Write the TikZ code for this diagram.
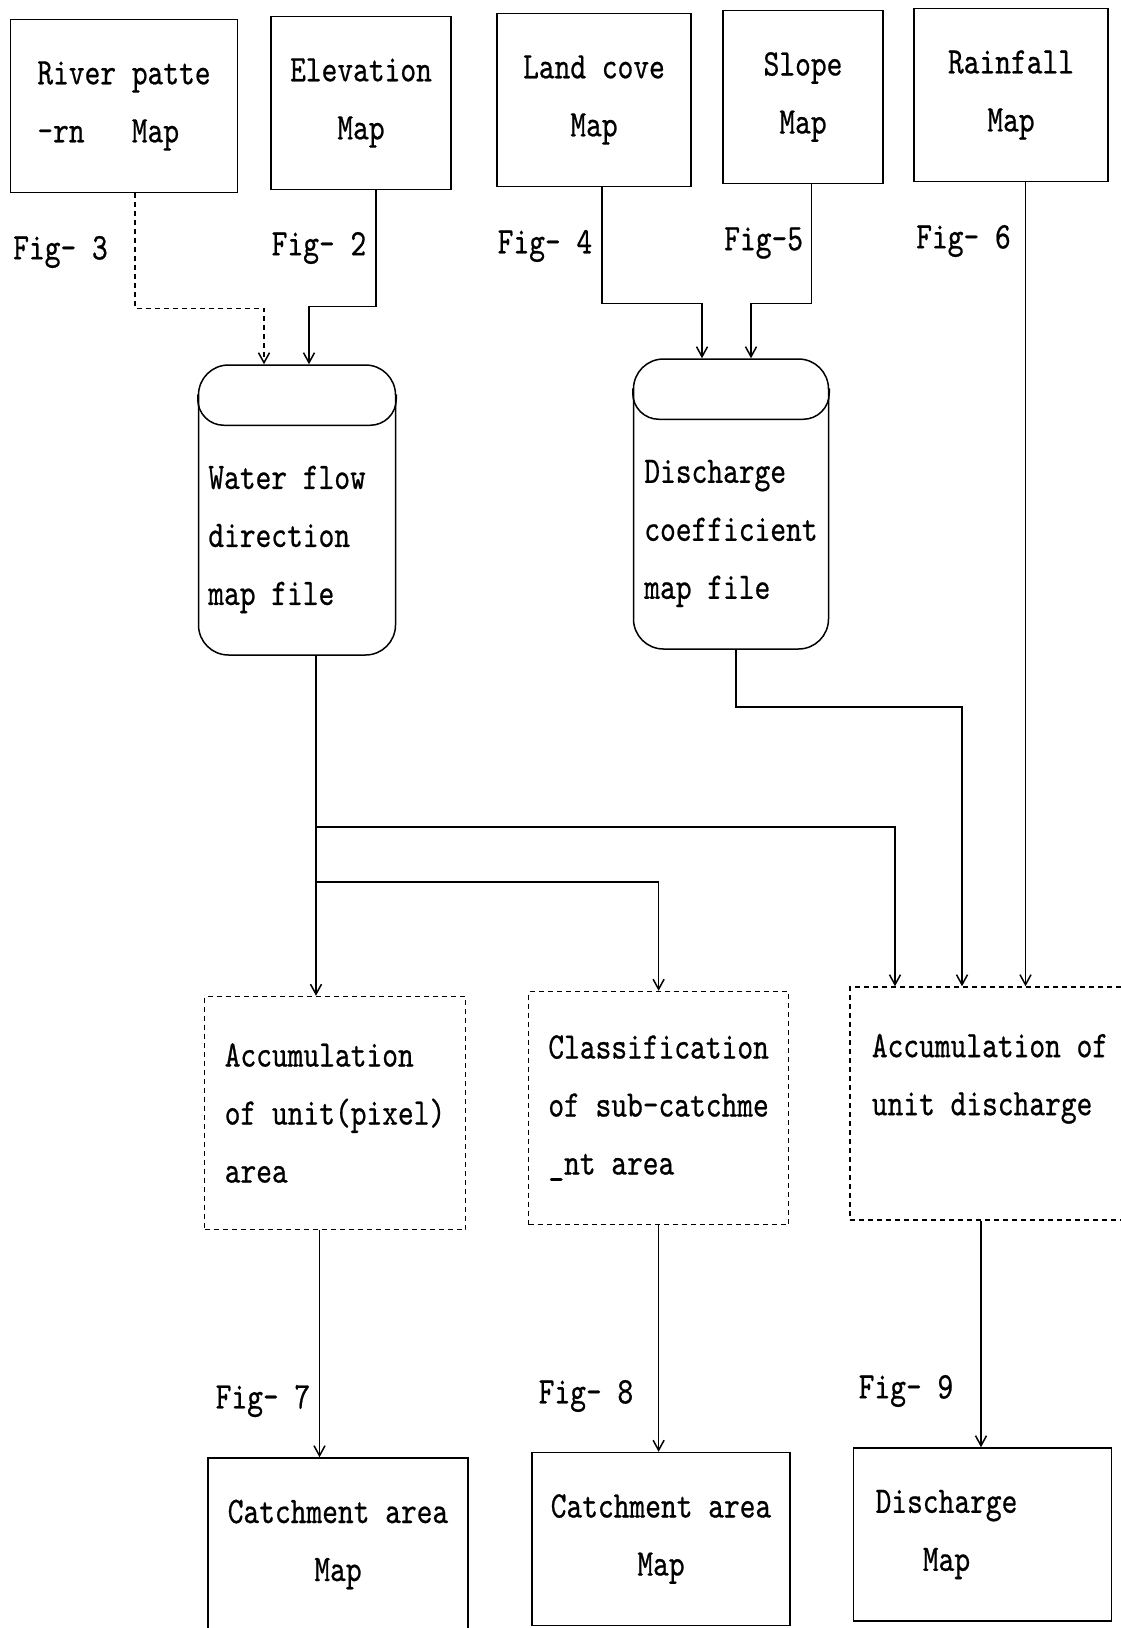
\documentclass[tikz,border=0pt]{standalone}
\usepackage{fontspec}
\usetikzlibrary{arrows.meta,calc}
\newfontfamily\maptext[FakeStretch=0.8,FakeBold=0.6,Extension=.otf]{lmmono10-regular}
\newcommand\mapfont{\maptext\fontsize{37.5pt}{58pt}\selectfont}

\begin{document}
\begin{tikzpicture}[x=1pt,y=-1pt,line width=1.5pt,
  mapbox/.style={draw,minimum height=173pt,align=center,font=\mapfont},
  stepbox/.style={draw,dash pattern=on 5pt off 4pt,minimum height=233pt,align=left,font=\mapfont},
  filebox/.style={draw,rounded corners=30pt,minimum height=290pt},
  filecap/.style={rounded corners=26pt},
  filetext/.style={anchor=west,align=left,font=\mapfont,inner sep=0pt},
  figlabel/.style={anchor=west,font=\mapfont,inner sep=0pt},
  flow/.style={-{Straight Barb[length=10pt,width=11pt]}}]
  \useasboundingbox (0,0) rectangle (1121,1628);
  \clip (0,0) rectangle (1121,1628);
  % input maps
  \node[mapbox,minimum width=227pt,align=left] (river) at (124,106) {River patte\\-rn\ \ \ Map};
  \node[mapbox,minimum width=180pt] (elevation) at (361,103) {Elevation\\Map};
  \node[mapbox,minimum width=194pt] (landcover) at (594,100) {Land cove\\Map};
  \node[mapbox,minimum width=160pt] (slope) at (803,97) {Slope\\Map};
  \node[mapbox,minimum width=194pt] (rainfall) at (1011,95) {Rainfall\\Map};
  \node[figlabel] (fig3) at (12.5,252) {Fig- 3};
  \node[figlabel] (fig2) at (271,248) {Fig- 2};
  \node[figlabel] (fig4) at (497,246) {Fig- 4};
  \node[figlabel] (fig5) at (723.5,243) {Fig-5};
  \node[figlabel] (fig6) at (915.5,241) {Fig- 6};
  % map files
  \node[filebox,minimum width=197pt] (flowfile) at (297,510) {};
  \node[filetext] (flowtext) at (207.6,539.5) {Water flow\\direction\\map file};
  \node[filebox,minimum width=195pt] (coeffile) at (731,504) {};
  \node[filetext] (coeftext) at (643.6,533.5) {Discharge\\coefficient\\map file};
  \draw[filecap] ($(flowfile.north west)+(0,30)$) -- ($(flowfile.north west)+(0,61)$) -- ($(flowfile.north east)+(0,61)$) -- ($(flowfile.north east)+(0,30)$);
  \draw[filecap] ($(coeffile.north west)+(0,30)$) -- ($(coeffile.north west)+(0,61)$) -- ($(coeffile.north east)+(0,61)$) -- ($(coeffile.north east)+(0,30)$);
  % processing steps
  \node[stepbox,minimum width=261pt] (accarea) at (335,1113) {Accumulation\\of unit(pixel)\\area};
  \node[stepbox,minimum width=260pt] (classify) at (658.6,1108) {Classification\\of sub-catchme\\\_nt area};
  \node[stepbox,minimum width=280pt] (accdis) at (990,1103.5) {Accumulation of\\unit discharge\\\mbox{}};
  % output maps
  \node[mapbox,minimum width=260pt] (catcharea) at (338,1544.5) {Catchment area\\Map};
  \node[mapbox,minimum width=258pt] (catchsub) at (661,1539) {Catchment area\\Map};
  \node[mapbox,minimum width=258pt,label={[font=\mapfont,align=center,xshift=-36pt]center:Discharge\\Map}] (dismap) at (982.5,1534.5) {};
  \node[figlabel] (fig7) at (215,1401) {Fig- 7};
  \node[figlabel] (fig8) at (538,1396) {Fig- 8};
  \node[figlabel] (fig9) at (858,1391) {Fig- 9};
  % connectors
  \draw[flow,dash pattern=on 5pt off 4pt] ($(river.south)+(11,0)$) -- ++(0,115) -| ($(flowfile.north)+(-33,0)$);
  \draw[flow] ($(elevation.south)+(15,0)$) -- ++(0,116) -| ($(flowfile.north)+(12,0)$);
  \draw[flow] ($(landcover.south)+(8,0)$) -- ++(0,116) -| ($(coeffile.north)+(-29,0)$);
  \draw[flow] ($(slope.south)+(8.5,0)$) -- ++(0,119) -| ($(coeffile.north)+(20,0)$);
  \coordinate (rainout) at ($(rainfall.south)+(14.5,0)$);
  \draw[flow] (rainout) -- (rainout |- accdis.north);
  \coordinate (flowout) at ($(flowfile.south)+(19,0)$);
  \coordinate (split1) at ($(flowout)+(0,171)$);
  \coordinate (split2) at ($(flowout)+(0,226)$);
  \draw[flow] (flowout) -- (flowout |- accarea.north);
  \draw[flow] (split1) -| ($(accdis.north)+(-95,0)$);
  \draw[flow] (split2) -| (classify.north);
  \draw[flow] ($(coeffile.south)+(5,0)$) -- ++(0,57) -| ($(accdis.north)+(-28,0)$);
  \coordinate (areaout) at ($(accarea.south)+(-15.5,0)$);
  \draw[flow] (areaout) -- (areaout |- catcharea.north);
  \draw[flow] (classify.south) -- (classify.south |- catchsub.north);
  \coordinate (disout) at ($(accdis.south)+(-9,0)$);
  \draw[flow] (disout) -- (disout |- dismap.north);
\end{tikzpicture}
\end{document}
